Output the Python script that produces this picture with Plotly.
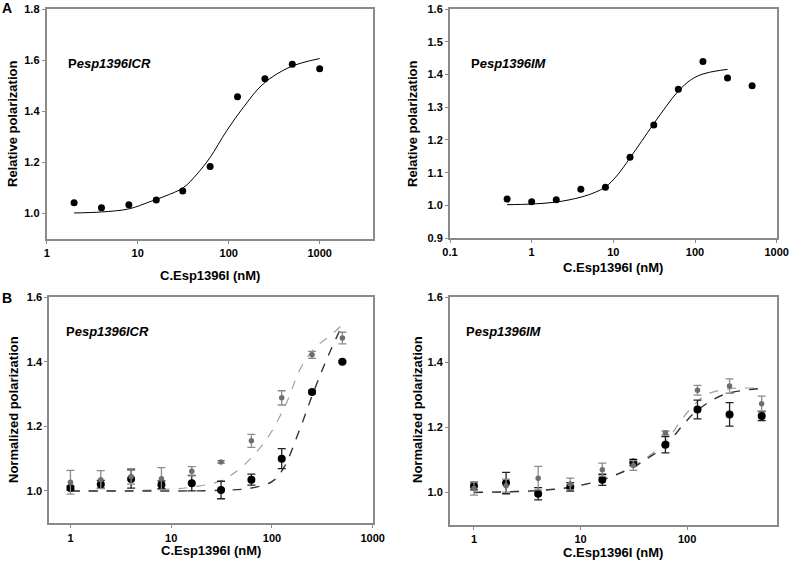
import plotly.graph_objects as go

W, H = 792, 563

# ---------------- Data ----------------
# Panel A left: Pesp1396ICR
a1_x = [2, 4, 8, 16, 31.25, 62.5, 125, 250, 500, 1000]
a1_y = [1.042, 1.022, 1.034, 1.053, 1.088, 1.184, 1.457, 1.528, 1.585, 1.567]
a1_fit_x = [2, 4, 8, 13.6, 20, 31.7, 45, 62.3, 95, 145, 240, 472, 1000]
a1_fit_y = [1.002, 1.006, 1.018, 1.046, 1.068, 1.101, 1.155, 1.219, 1.324, 1.416, 1.508, 1.574, 1.607]

# Panel A right: Pesp1396IM
a2_x = [0.5, 1, 2, 4, 8, 16, 31.25, 62.5, 125, 250, 500]
a2_y = [1.019, 1.011, 1.017, 1.049, 1.055, 1.147, 1.246, 1.355, 1.440, 1.390, 1.366]
a2_fit_x = [0.5, 1, 2, 4, 6, 8, 11, 16, 22, 31.25, 45, 62.5, 90, 125, 180, 250]
a2_fit_y = [1.002, 1.004, 1.010, 1.025, 1.040, 1.056, 1.090, 1.145, 1.195, 1.250, 1.305, 1.350, 1.385, 1.402, 1.411, 1.416]

# Panel B left: Pesp1396ICR (gray and black series)
b1_x = [1, 2, 4, 8, 16, 31.25, 62.5, 125, 250, 500]
b1_gray_y = [1.027, 1.035, 1.045, 1.038, 1.061, 1.090, 1.155, 1.288, 1.421, 1.473]
b1_gray_err = [0.037, 0.028, 0.024, 0.034, 0.014, 0.004, 0.020, 0.022, 0.011, 0.018]
b1_black_y = [1.009, 1.021, 1.037, 1.019, 1.024, 1.003, 1.035, 1.100, 1.306, 1.400]
b1_black_err = [0.006, 0.012, 0.028, 0.012, 0.024, 0.027, 0.017, 0.031, 0.005, 0.003]
b1_gray_fit_x = [1, 4, 10, 16, 31.25, 51.8, 88.4, 139.6, 189, 257, 405, 500]
b1_gray_fit_y = [1.000, 1.001, 1.006, 1.012, 1.032, 1.078, 1.160, 1.273, 1.375, 1.437, 1.488, 1.515]
b1_black_fit_x = [1, 4, 10, 31.25, 62.5, 100, 129, 189, 257, 348, 500]
b1_black_fit_y = [1.000, 1.000, 1.000, 1.002, 1.009, 1.029, 1.068, 1.191, 1.304, 1.406, 1.514]

# Panel B right: Pesp1396IM
b2_x = [1, 2, 4, 8, 16, 31.25, 62.5, 125, 250, 500]
b2_gray_y = [1.012, 1.021, 1.044, 1.026, 1.070, 1.083, 1.183, 1.314, 1.327, 1.273]
b2_gray_err = [0.020, 0.020, 0.036, 0.018, 0.020, 0.015, 0.006, 0.015, 0.022, 0.023]
b2_black_y = [1.020, 1.029, 0.996, 1.017, 1.039, 1.092, 1.147, 1.255, 1.240, 1.235]
b2_black_err = [0.012, 0.033, 0.019, 0.013, 0.017, 0.010, 0.025, 0.029, 0.036, 0.014]
b2_gray_fit_x = [1, 2, 4, 8, 16, 31.25, 45, 64, 85, 106, 152, 251, 500]
b2_gray_fit_y = [1.000, 1.002, 1.006, 1.016, 1.040, 1.080, 1.115, 1.160, 1.215, 1.255, 1.301, 1.319, 1.320]
b2_black_fit_x = [1, 2, 4, 8, 16, 31.25, 45, 64, 90, 122, 217, 500]
b2_black_fit_y = [1.000, 1.002, 1.006, 1.016, 1.039, 1.078, 1.110, 1.147, 1.205, 1.250, 1.300, 1.320]

x_ticks = [0.1, 1, 10, 100, 1000]
x_tick_text = ["0.1", "1", "10", "100", "1000"]

# ---------------- Styling ----------------
FONT = "Liberation Sans, Arial, Helvetica, sans-serif"
AX = "#8a8a8a"
GRAY_M = "#6e6e6e"
GRAY_E = "#8c8c8c"
GRAY_L = "#a0a0a0"

fig = go.Figure()

# A left
fig.add_trace(go.Scatter(x=a1_fit_x, y=a1_fit_y, mode="lines", line=dict(color="black", width=1, shape="spline"),
                         xaxis="x", yaxis="y", showlegend=False))
fig.add_trace(go.Scatter(x=a1_x, y=a1_y, mode="markers", marker=dict(color="black", size=7),
                         xaxis="x", yaxis="y", showlegend=False))
# A right
fig.add_trace(go.Scatter(x=a2_fit_x, y=a2_fit_y, mode="lines", line=dict(color="black", width=1, shape="spline"),
                         xaxis="x2", yaxis="y2", showlegend=False))
fig.add_trace(go.Scatter(x=a2_x, y=a2_y, mode="markers", marker=dict(color="black", size=7),
                         xaxis="x2", yaxis="y2", showlegend=False))

def b_panel(xa, ya, xs, gy, ge, by, be, gfx, gfy, bfx, bfy):
    fig.add_trace(go.Scatter(x=gfx, y=gfy, mode="lines",
                             line=dict(color=GRAY_L, width=1.2, dash="dash", shape="spline"),
                             xaxis=xa, yaxis=ya, showlegend=False))
    fig.add_trace(go.Scatter(x=bfx, y=bfy, mode="lines",
                             line=dict(color="#333333", width=1.4, dash="dash", shape="spline"),
                             xaxis=xa, yaxis=ya, showlegend=False))
    fig.add_trace(go.Scatter(x=xs, y=by, mode="markers", marker=dict(color="black", size=8),
                             error_y=dict(type="data", array=be, color="#222222", thickness=1.3, width=4),
                             xaxis=xa, yaxis=ya, showlegend=False))
    fig.add_trace(go.Scatter(x=xs, y=gy, mode="markers", marker=dict(color=GRAY_M, size=5.5),
                             error_y=dict(type="data", array=ge, color=GRAY_E, thickness=1.3, width=4),
                             xaxis=xa, yaxis=ya, showlegend=False))

b_panel("x3", "y3", b1_x, b1_gray_y, b1_gray_err, b1_black_y, b1_black_err,
        b1_gray_fit_x, b1_gray_fit_y, b1_black_fit_x, b1_black_fit_y)
b_panel("x4", "y4", b2_x, b2_gray_y, b2_gray_err, b2_black_y, b2_black_err,
        b2_gray_fit_x, b2_gray_fit_y, b2_black_fit_x, b2_black_fit_y)

def px(v):
    return v / W

def py(v):
    return 1 - v / H

tickfont = dict(family=FONT, size=11, color="black", weight="bold")

def xaxis(dom, rng, anchor):
    return dict(domain=dom, type="log", range=rng, tickvals=x_ticks, ticktext=x_tick_text,
                showline=True, linecolor=AX, linewidth=2, mirror=True, ticks="outside",
                ticklen=3, tickcolor=AX, tickwidth=1, showgrid=False, zeroline=False,
                tickfont=tickfont, anchor=anchor, automargin=False)

def yaxis(dom, rng, dtick, anchor):
    return dict(domain=dom, range=rng, dtick=dtick, tick0=0, tickformat=".1f",
                showline=True, linecolor=AX, linewidth=2, mirror=True, ticks="outside",
                ticklen=3, tickcolor=AX, tickwidth=1, showgrid=False, zeroline=False,
                tickfont=tickfont, anchor=anchor, automargin=False)

fig.update_layout(
    template="none",
    width=W, height=H,
    margin=dict(l=0, r=0, t=0, b=0, pad=0, autoexpand=False),
    paper_bgcolor="white", plot_bgcolor="white",
    xaxis=xaxis([px(46.7), px(373)], [0, 3.586], "y"),
    yaxis=yaxis([py(239), py(9.3)], [0.9, 1.8], 0.2, "x"),
    xaxis2=xaxis([px(450), px(776.7)], [-1, 3], "y2"),
    yaxis2=yaxis([py(238), py(9.3)], [0.9, 1.6], 0.1, "x2"),
    xaxis3=xaxis([px(49.3), px(372.7)], [-0.21, 3], "y3"),
    yaxis3=yaxis([py(523.3), py(297)], [0.9, 1.6], 0.2, "x3"),
    xaxis4=xaxis([px(450), px(776.7)], [-0.225, 2.84], "y4"),
    yaxis4=yaxis([py(525), py(297.3)], [0.9, 1.6], 0.2, "x4"),
)

ann = []
def text(x, y, t, size=13, angle=0, xanchor="center"):
    ann.append(dict(x=px(x), y=py(y), xref="paper", yref="paper", text=t, showarrow=False,
                    textangle=angle, xanchor=xanchor, yanchor="middle",
                    font=dict(family=FONT, size=size, color="black", weight="bold")))

text(7, 8, "A", size=14)
text(7, 298, "B", size=14)
text(12, 124, "Relative polarization", angle=-90)
text(412, 124, "Relative polarization", angle=-90)
text(13, 410, "Normalized polarization", angle=-90)
text(417, 410, "Normalized polarization", angle=-90)
text(210, 275, "C.Esp1396I (nM)")
text(613, 267, "C.Esp1396I (nM)")
text(211, 550, "C.Esp1396I (nM)")
text(613, 552, "C.Esp1396I (nM)")
text(66, 63.5, "P<i>esp1396ICR</i>", xanchor="left")
text(469, 63.5, "P<i>esp1396IM</i>", xanchor="left")
text(64, 331.5, "P<i>esp1396ICR</i>", xanchor="left")
text(464, 331.5, "P<i>esp1396IM</i>", xanchor="left")
fig.update_layout(annotations=ann)

fig.write_html("out.html",
               config={"displayModeBar": False},
               post_script="document.body.style.margin='0px';document.body.style.overflow='hidden';")
